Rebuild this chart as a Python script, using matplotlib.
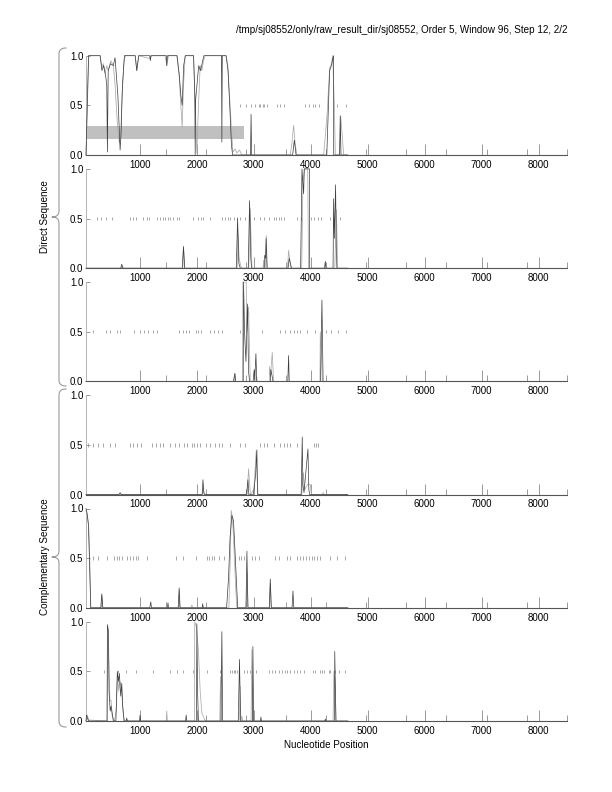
import numpy as np
import matplotlib
matplotlib.use("Agg")
import matplotlib.pyplot as plt

plt.rcParams['font.family'] = ['Liberation Sans', 'DejaVu Sans']

title = "/tmp/sj08552/only/raw_result_dir/sj08552, Order 5, Window 96, Step 12, 2/2"
xlabel = "Nucleotide Position"
group_labels = ["Direct Sequence", "Complementary Sequence"]
xticks = [1000, 2000, 3000, 4000, 5000, 6000, 7000, 8000]
xminor = [1458, 2161, 2865, 3568, 4272, 4975, 5679, 6382, 7086, 7789, 8493]
yticks = [0.0, 0.5, 1.0]
ytick_labels = ["0.0", "0.5", "1.0"]

# ---- panel 1 ----
p1_black_x = [50, 72, 95, 300, 330, 360, 395, 415, 426, 440, 480, 530, 560, 610, 649, 665, 690, 725, 745, 915, 942, 975, 1170, 1180, 1190, 1460, 1469, 1480, 1650, 1690, 1716, 1740, 1765, 1795, 1940, 1962, 1968, 1975, 2030, 2060, 2090, 2120, 2150, 2430, 2437, 2444, 2510, 2545, 2575, 2605, 2625, 2940, 2950, 2960, 3680, 3710, 3740, 4280, 4330, 4360, 4398, 4402, 4505, 4516, 4530, 4650]
p1_black_y = [0.0, 0.5, 1.0, 1.0, 0.85, 0.9, 0.8, 0.7, 0.03, 0.85, 0.92, 0.9, 0.98, 0.6, 0.05, 0.2, 0.7, 1.0, 1.0, 1.0, 0.85, 1.0, 1.0, 0.95, 1.0, 1.0, 0.9, 1.0, 1.0, 0.8, 0.6, 0.5, 0.9, 1.0, 1.0, 0.6, 0.0, 0.55, 0.9, 0.85, 0.92, 1.0, 1.0, 1.0, 0.13, 1.0, 1.0, 0.85, 0.5, 0.1, 0.0, 0.0, 0.41, 0.0, 0.0, 0.15, 0.0, 0.0, 0.85, 0.9, 1.0, 0.0, 0.0, 0.39, 0.0, 0.0]
p1_gray_x = [50, 74, 98, 297, 326, 356, 385, 414, 444, 485, 532, 561, 602, 637, 660, 684, 719, 743, 913, 942, 977, 1176, 1206, 1440, 1469, 1499, 1645, 1686, 1716, 1739, 1763, 1792, 1938, 1968, 1997, 2026, 2056, 2085, 2114, 2144, 2513, 2542, 2571, 2601, 2630, 2671, 2700, 2747, 2788, 3638, 3668, 3697, 3726, 3756, 4225, 4284, 4331, 4354, 4384, 4413, 4430, 4507, 4524, 4577, 4650]
p1_gray_y = [0.0, 0.5, 1.0, 1.0, 0.88, 0.92, 0.82, 0.9, 0.85, 0.95, 0.9, 0.7, 0.3, 0.12, 0.2, 0.6, 0.95, 1.0, 1.0, 0.85, 1.0, 0.97, 1.0, 1.0, 0.9, 1.0, 1.0, 0.8, 0.5, 0.28, 0.7, 1.0, 1.0, 0.5, 0.02, 0.5, 0.9, 0.85, 0.95, 1.0, 1.0, 0.9, 0.6, 0.3, 0.03, 0.06, 0.02, 0.05, 0.0, 0.0, 0.12, 0.3, 0.1, 0.0, 0.0, 0.4, 0.88, 0.9, 1.0, 0.5, 0.0, 0.0, 0.4, 0.0, 0.0]
p1_stops = [2759, 2865, 2953, 3023, 3081, 3111, 3152, 3181, 3229, 3405, 3451, 3521, 3900, 3975, 4040, 4078, 4150, 4460, 4624]
p1_gene_start = 50
p1_gene_end = 2817
p1_gene_low = 0.16
p1_gene_high = 0.29

# ---- panel 2 ----
p2_black_x = [50, 660, 678, 700, 1740, 1762, 1785, 2690, 2713, 2735, 2760, 2900, 2924, 2945, 2960, 3180, 3190, 3205, 3215, 3230, 3600, 3620, 3640, 3660, 3820, 3844, 3873, 3885, 3975, 3980, 4240, 4254, 4265, 4390, 4400, 4412, 4435, 4447, 4458, 4650]
p2_black_y = [0, 0, 0.04, 0, 0, 0.22, 0, 0, 0.5, 0.05, 0, 0, 0.68, 0.1, 0, 0, 0.13, 0.1, 0.3, 0, 0, 0.1, 0.05, 0, 0, 1.0, 0.75, 1.0, 1.0, 0.0, 0, 0.07, 0, 0, 0.7, 0.3, 0.84, 0.2, 0, 0]
p2_gray_x = [50, 665, 685, 705, 1750, 1765, 1780, 2705, 2720, 2740, 2770, 2800, 2910, 2935, 2950, 2965, 3160, 3170, 3180, 3200, 3216, 3235, 3590, 3609, 3630, 3650, 3840, 3860, 3885, 3945, 3960, 4420, 4450, 4470, 4650]
p2_gray_y = [0, 0, 0.02, 0, 0, 0.2, 0, 0, 0.35, 0.1, 0.02, 0, 0, 0.6, 0.3, 0, 0, 0.08, 0, 0, 0.33, 0, 0, 0.18, 0.08, 0, 0, 0.85, 1.0, 1.0, 0, 0, 0.59, 0, 0]
p2_stops = [239, 315, 403, 503, 825, 883, 930, 1059, 1119, 1164, 1294, 1352, 1400, 1440, 1488, 1529, 1576, 1646, 1692, 1938, 2026, 2068, 2114, 2232, 2437, 2495, 2543, 2584, 2654, 2701, 2759, 2847, 2905, 2993, 3111, 3169, 3257, 3345, 3393, 3433, 3475, 3521, 3757, 3827, 4000, 4060, 4119, 4175, 4330, 4400, 4448, 4506]

# ---- panel 3 ----
p3_black_x = [50, 2640, 2667, 2680, 2812, 2818, 2835, 2860, 2888, 2905, 2925, 2985, 3005, 3015, 3035, 3050, 3290, 3298, 3320, 3335, 3595, 3609, 3620, 4170, 4195, 4215, 4650]
p3_black_y = [0, 0, 0.08, 0, 0, 1.0, 0.5, 0.2, 0.78, 0.1, 0, 0, 0.12, 0.02, 0.28, 0, 0, 0.12, 0.05, 0, 0, 0.26, 0, 0, 0.82, 0, 0]
p3_gray_x = [50, 2650, 2660, 2675, 2800, 2806, 2865, 2872, 2906, 2935, 3030, 3045, 3060, 3270, 3275, 3290, 3322, 3345, 4160, 4166, 4185, 4200, 4650]
p3_gray_y = [0, 0, 0.08, 0, 0, 1.0, 1.0, 0.5, 0.75, 0, 0, 0.05, 0, 0, 0.15, 0.05, 0.29, 0, 0, 0.5, 0.3, 0, 0]
p3_stops = [180, 403, 473, 602, 649, 895, 1001, 1077, 1136, 1224, 1294, 1675, 1751, 1804, 1851, 1986, 2026, 2068, 2232, 2290, 2367, 2443, 2759, 3141, 3463, 3551, 3627, 3697, 3757, 3803, 3932, 4078, 4272, 4350, 4480, 4610]

# ---- panel 4 ----
p4_black_x = [50, 630, 650, 670, 2090, 2105, 2120, 2135, 2870, 2895, 2910, 2990, 3010, 3030, 3052, 3065, 3830, 3849, 3860, 3880, 3949, 3965, 3980, 4650]
p4_black_y = [0, 0, 0.02, 0, 0, 0.15, 0.02, 0, 0, 0.15, 0, 0, 0.1, 0.2, 0.45, 0, 0, 0.58, 0.1, 0.02, 0.46, 0.05, 0, 0]
p4_gray_x = [50, 2095, 2110, 2125, 2880, 2906, 2925, 2940, 3000, 3040, 3060, 3075, 3840, 3870, 3890, 3940, 3990, 4010, 4200, 4215, 4230, 4650]
p4_gray_y = [0, 0, 0.08, 0, 0, 0.26, 0.1, 0, 0.05, 0.44, 0.1, 0, 0, 0.22, 0.05, 0.1, 0.1, 0, 0, 0.02, 0, 0]
p4_stops = [92, 180, 268, 344, 473, 561, 825, 883, 943, 1018, 1206, 1282, 1352, 1411, 1529, 1616, 1675, 1775, 1822, 1910, 1950, 1998, 2056, 2161, 2232, 2308, 2378, 2437, 2572, 2759, 2847, 3111, 3169, 3229, 3345, 3463, 3521, 3580, 3639, 3757, 4061, 4096, 4131]

# ---- panel 5 ----
p5_black_x = [50, 70, 92, 110, 133, 310, 327, 345, 1170, 1188, 1200, 1480, 1490, 1500, 1670, 1686, 1700, 2090, 2100, 2110, 2520, 2554, 2580, 2612, 2640, 2655, 2690, 2715, 2860, 2877, 2895, 3270, 3287, 3305, 3670, 3686, 3700, 4650]
p5_black_y = [1.0, 0.95, 0.84, 0.5, 0, 0, 0.14, 0, 0, 0.06, 0, 0, 0.05, 0, 0, 0.2, 0, 0, 0.04, 0, 0, 0.3, 0.7, 0.93, 0.88, 0.72, 0.3, 0, 0, 0.57, 0, 0, 0.29, 0, 0, 0.17, 0, 0]
p5_gray_x = [50, 80, 100, 120, 135, 320, 330, 345, 1680, 1690, 1705, 1900, 1910, 1920, 2560, 2585, 2601, 2625, 2650, 2680, 2700, 2865, 2880, 2895, 3275, 3290, 3305, 4650]
p5_gray_y = [0.98, 0.9, 0.8, 0.4, 0, 0, 0.12, 0, 0, 0.18, 0, 0, 0.03, 0, 0, 0.5, 0.98, 0.9, 0.6, 0.2, 0, 0, 0.35, 0, 0, 0.25, 0, 0]
p5_stops = [109, 180, 268, 415, 543, 591, 637, 678, 766, 825, 883, 930, 971, 1130, 1628, 1762, 1986, 2174, 2214, 2261, 2303, 2378, 2466, 2730, 2771, 2830, 2965, 3023, 3081, 3375, 3433, 3580, 3639, 3757, 3815, 3862, 3909, 3962, 4020, 4049, 4108, 4154, 4340, 4460, 4600]

# ---- panel 6 ----
p6_black_x = [50, 60, 80, 100, 420, 426, 445, 455, 475, 491, 530, 575, 600, 620, 636, 660, 678, 695, 720, 755, 766, 777, 990, 1000, 1010, 1800, 1810, 1820, 1990, 1998, 2010, 2025, 2420, 2437, 2450, 2725, 2747, 2765, 2975, 2982, 2995, 3115, 3123, 3131, 4245, 4254, 4263, 4415, 4420, 4440, 4650]
p6_black_y = [0, 0.06, 0.02, 0, 0, 0.97, 0.9, 0.3, 0.1, 0.15, 0, 0, 0.5, 0.4, 0.48, 0.25, 0.38, 0.15, 0, 0, 0.03, 0, 0, 0.06, 0, 0, 0.06, 0, 0, 0.98, 0.3, 0, 0, 0.9, 0, 0, 0.62, 0, 0, 0.75, 0, 0, 0.04, 0, 0, 0.02, 0, 0, 0.7, 0, 0]
p6_gray_x = [50, 70, 100, 420, 432, 450, 470, 491, 510, 550, 580, 605, 625, 645, 670, 700, 720, 1460, 1469, 1478, 1955, 1960, 1990, 2026, 2056, 2085, 2124, 2150, 2400, 2413, 2430, 2740, 2759, 2770, 2790, 2800, 2950, 2964, 2985, 4390, 4405, 4425, 4445, 4650]
p6_gray_y = [0, 0.06, 0.01, 0, 0.95, 0.6, 0.2, 0.21, 0.05, 0, 0.1, 0.45, 0.3, 0.4, 0.35, 0.1, 0, 0, 0.1, 0, 0, 1.0, 0.95, 0.7, 0.3, 0.08, 0.03, 0, 0, 0.45, 0, 0, 0.35, 0, 0.05, 0, 0, 0.72, 0, 0, 0.5, 0.4, 0, 0]
p6_stops = [367, 619, 755, 930, 1235, 1529, 1646, 1751, 1927, 2174, 2396, 2584, 2613, 2642, 2671, 2701, 2818, 2877, 2924, 3041, 3257, 3316, 3375, 3433, 3492, 3551, 3580, 3639, 3697, 3757, 3803, 3873, 4037, 4078, 4154, 4196, 4225, 4312, 4330, 4430, 4500, 4606]

panels = [
    (p1_black_x, p1_black_y, p1_gray_x, p1_gray_y, p1_stops),
    (p2_black_x, p2_black_y, p2_gray_x, p2_gray_y, p2_stops),
    (p3_black_x, p3_black_y, p3_gray_x, p3_gray_y, p3_stops),
    (p4_black_x, p4_black_y, p4_gray_x, p4_gray_y, p4_stops),
    (p5_black_x, p5_black_y, p5_gray_x, p5_gray_y, p5_stops),
    (p6_black_x, p6_black_y, p6_gray_x, p6_gray_y, p6_stops),
]

W, H = 612, 792
fig = plt.figure(figsize=(W / 100, H / 100), dpi=100)
FS = 7.1
FS_TICK = 7.0
FS_TITLE = 7.1
BLACK = '#3c3c3c'
GRAY = '#ababab'
TICKC = '#9a9a9a'

left_px, right_px = 86, 567
bottom0_px = 155
step_px = 113.2
height_px = 99.3

for i, (bx, by, gx, gy, stops) in enumerate(panels):
    bpx = bottom0_px + step_px * i
    ax = fig.add_axes([left_px / W, 1 - bpx / H, (right_px - left_px) / W, height_px / H])
    ax.set_xlim(50, 8500)
    ax.set_ylim(0, 1)
    if i == 0:
        ax.broken_barh([(p1_gene_start, p1_gene_end - p1_gene_start)],
                       (p1_gene_low, p1_gene_high - p1_gene_low),
                       facecolors='#c0c0c0', edgecolor='none', zorder=1)
    ax.vlines(stops, 0.483, 0.517, color=TICKC, lw=0.6, zorder=2)
    ax.plot(gx, gy, color=GRAY, lw=0.55, zorder=3, clip_on=False)
    ax.plot(bx, by, color=BLACK, lw=0.5, zorder=4, clip_on=False)
    ax.set_xticks(xticks)
    ax.set_xticklabels([str(t) for t in xticks])
    ax.set_xticks(xminor, minor=True)
    ax.set_yticks(yticks)
    ax.set_yticklabels(ytick_labels)
    ax.tick_params(axis='x', which='major', direction='in', length=8, width=0.7,
                   color=TICKC, labelsize=FS_TICK, pad=3.5)
    ax.tick_params(axis='x', which='minor', direction='in', length=4, width=0.7,
                   color=TICKC)
    ax.tick_params(axis='y', which='major', direction='in', length=3, width=0.7,
                   color=TICKC, labelsize=FS_TICK, pad=2)
    for s in ['top', 'right']:
        ax.spines[s].set_visible(False)
    ax.spines['bottom'].set_color('#555555')
    ax.spines['bottom'].set_linewidth(0.8)
    ax.spines['bottom'].set_zorder(5)
    ax.spines['left'].set_color('#aaaaaa')
    ax.spines['left'].set_linewidth(0.6)
    ax.patch.set_alpha(0)


def brace(top, bottom, mid, xv=59, xend=66, xtip=52, r=6):
    pts = []
    def quad(p0, c, p1, n=12):
        t = np.linspace(0, 1, n)
        return [((1 - tt) ** 2 * p0[0] + 2 * (1 - tt) * tt * c[0] + tt ** 2 * p1[0],
                 (1 - tt) ** 2 * p0[1] + 2 * (1 - tt) * tt * c[1] + tt ** 2 * p1[1]) for tt in t]
    pts += quad((xend, top), (xv, top), (xv, top + r))
    pts += [(xv, mid - r)]
    pts += quad((xv, mid - r), (xv, mid), (xtip, mid), 6)
    pts += quad((xtip, mid), (xv, mid), (xv, mid + r), 6)
    pts += [(xv, bottom - r)]
    pts += quad((xv, bottom - r), (xv, bottom), (xend, bottom))
    xs = [p[0] / W for p in pts]
    ys = [1 - p[1] / H for p in pts]
    fig.add_artist(matplotlib.lines.Line2D(xs, ys, color='#999999', lw=0.8))

brace(48, 386, 217)
brace(389, 727, 557)

fig.text(45 / W, 1 - 217 / H, group_labels[0], rotation=90, ha='center', va='center', fontsize=FS)
fig.text(45 / W, 1 - 557 / H, group_labels[1], rotation=90, ha='center', va='center', fontsize=FS)
fig.text(568 / W, 1 - 30 / H, title, ha='right', va='center', fontsize=FS_TITLE)
fig.text(326 / W, 1 - 745 / H, xlabel, ha='center', va='center', fontsize=FS)

fig.savefig('out.png', dpi=100)
